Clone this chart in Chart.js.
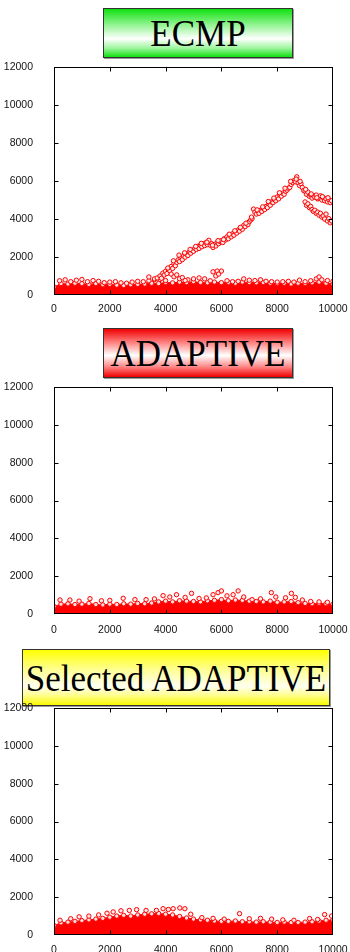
<!DOCTYPE html>
<html>
<head>
<meta charset="utf-8">
<script src="https://cdn.jsdelivr.net/npm/chart.js@4.4.0/dist/chart.umd.min.js"></script>
<style>
  body { margin: 0; background: #fff; width: 350px; height: 952px; position: relative; overflow: hidden; }
  .title {
    position: absolute; box-sizing: border-box; border: 1px solid #333;
    font-family: "Liberation Serif", "Times New Roman", serif; font-size: 35px;
    color: #000; text-align: center; box-shadow: 1px 1px 0 #999;
  }
  .title span { display: inline-block; transform: scaleY(1.06); }
  .panel { position: absolute; left: 0; }
</style>
</head>
<body>

<div class="title" style="left:103px;top:8px;width:190px;height:50px;line-height:50px;
  background:linear-gradient(to bottom,#10e010 0%,#9af59a 35%,#ffffff 62%,#9af59a 82%,#10e010 100%)"><span>ECMP</span></div>
<div class="panel" style="top:60px"><canvas id="c1" width="350" height="257"></canvas></div>

<div class="title" style="left:103px;top:328px;width:190px;height:50px;line-height:50px;
  background:linear-gradient(to bottom,#f00000 0%,#ff8a8a 30%,#ffffff 55%,#ff8a8a 78%,#f00000 100%)"><span>ADAPTIVE</span></div>
<div class="panel" style="top:380px"><canvas id="c2" width="350" height="256"></canvas></div>

<div class="title" style="left:22px;top:649px;width:308px;height:57px;line-height:57px;
  background:linear-gradient(to bottom,#ffff00 0%,#ffff90 35%,#fffff0 66%,#ffff90 82%,#f8f800 100%)"><span>Selected ADAPTIVE</span></div>
<div class="panel" style="top:701px"><canvas id="c3" width="350" height="256"></canvas></div>

<script>
const xTicks = [0, 2000, 4000, 6000, 8000, 10000];
const yTicks = [0, 2000, 4000, 6000, 8000, 10000, 12000];

// upper edge of the dense band, sampled along x
const bandX = [0, 250, 500, 750, 1000, 1250, 1500, 1750, 2000, 2250, 2500, 2750, 3000, 3250, 3500, 3750,
  4000, 4250, 4500, 4750, 5000, 5250, 5500, 5750, 6000, 6250, 6500, 6750, 7000, 7250, 7500, 7750,
  8000, 8250, 8500, 8750, 9000, 9250, 9500, 9750, 10000];

const ecmpBand = [420, 600, 580, 620, 600, 560, 600, 540, 560, 520, 500, 540, 560, 580, 620, 600,
  660, 640, 680, 650, 700, 660, 640, 680, 650, 660, 620, 680, 660, 640, 660, 620,
  600, 620, 580, 620, 600, 640, 680, 620, 580];
const adaptBand = [400, 520, 540, 500, 520, 560, 500, 480, 520, 500, 540, 520, 560, 540, 580, 640,
  680, 640, 700, 680, 660, 640, 700, 720, 760, 700, 740, 720, 680, 660, 640, 680,
  620, 640, 660, 600, 560, 540, 560, 540, 520];
const selBand = [500, 640, 680, 720, 760, 800, 840, 880, 940, 1000, 1040, 1000, 1060, 1100, 1120, 1140,
  1100, 1060, 980, 900, 840, 800, 780, 740, 720, 720, 740, 700, 700, 680, 700, 680,
  660, 680, 660, 660, 680, 700, 740, 780, 800];

// scattered points above the band
const ecmpOutX = [200, 400, 600, 800, 1000, 1200, 1400, 1600, 1800, 2000, 2200, 2400, 2600, 2800, 3000, 3200,
  3400, 3600, 3800, 4000, 4800, 5000, 5200, 5400, 5600, 6200, 6400, 6600, 6800, 7000, 7200, 7400,
  7600, 7800, 8000, 8200, 8400, 8600, 8800, 9000, 9200, 9400, 9500, 9600, 9800, 10000];
const ecmpOutY = [750, 800, 700, 780, 820, 700, 760, 720, 650, 680, 700, 640, 620, 680, 720, 700,
  750, 800, 820, 760, 800, 850, 900, 850, 750, 750, 700, 720, 850, 780, 760, 800,
  720, 700, 680, 700, 720, 680, 780, 700, 750, 850, 950, 800, 760, 720];

const ecmpTrendX = [3400, 3600, 3700, 3800, 3850, 3900, 3950, 4000, 4050, 4100, 4150, 4200, 4250, 4300, 4350, 4400,
  4450, 4500, 4550, 4600, 4650, 4700, 4750, 4800, 4850, 4900, 4950, 5000, 5050, 5100, 5150, 5200,
  5250, 5300, 5350, 5400, 5450, 5500, 5550, 5600, 5650, 5700, 5750, 5800, 5850, 5900, 5950, 6000,
  6050, 6100, 6150, 6200, 6250, 6300, 6350, 6400, 6450, 6500, 6550, 6600, 6650, 6700, 6750, 6800,
  6850, 6900, 6950, 7000, 7050, 7100, 7150, 7200, 7250, 7300, 7350, 7400, 7450, 7500, 7550, 7600,
  7650, 7700, 7750, 7800, 7850, 7900, 7950, 8000, 8050, 8100, 8150, 8200, 8250, 8300, 8350, 8400,
  8450, 8500, 8550, 8600, 8650, 8700, 8750, 8800, 8850, 8900, 8950, 9000, 9050, 9100, 9150, 9200,
  9250, 9300, 9350, 9400, 9450, 9500, 9550, 9600, 9650, 9700, 9750, 9800, 9850, 9900, 9950,
  9000, 9050, 9100, 9150, 9200, 9250, 9300, 9350, 9400, 9450, 9500, 9550, 9600, 9650, 9700, 9750,
  9800, 9850, 9900, 9950,
  4200, 4300, 4400, 4500, 4600, 4700, 5700, 5800, 5850, 5900, 6000,
  4080, 4280, 4480, 4680, 4880, 5080, 5280, 5480, 5680, 5880, 6080, 6280, 6480, 6680, 6880, 7080,
  7280, 7480, 7680, 7880, 8080, 8280, 8480, 8680, 8820, 9020, 9220, 9420, 9620, 9820];
const ecmpTrendY = [950, 850, 900, 1000, 880, 1150, 1050, 1250, 1130, 1350, 1280, 1500, 1400, 1650, 1540, 1720,
  1850, 1760, 1960, 1860, 2060, 1990, 2150, 2080, 2260, 2200, 2350, 2300, 2460, 2400, 2560, 2450,
  2620, 2540, 2700, 2600, 2760, 2650, 2880, 2620, 2700, 2500, 2660, 2580, 2760, 2700, 2820, 2860,
  2760, 2960, 2900, 3060, 2960, 3150, 3060, 3220, 3150, 3320, 3260, 3420, 3360, 3520, 3460, 3660,
  3600, 3760, 3700, 3860, 3950, 4020, 4520, 4360, 4260, 4420, 4300, 4460, 4400, 4560, 4500, 4660,
  4600, 4800, 4720, 4900, 4860, 5020, 4960, 5160, 5060, 5260, 5200, 5360, 5300, 5460, 5520, 5620,
  5660, 5820, 5920, 6020, 5960, 6220, 5900, 5760, 5860, 5660, 5500, 5460, 5300, 5420, 5200, 5260,
  5100, 5220, 5150, 5260, 5060, 5100, 5220, 5000, 5120, 4960, 5060, 4900, 5020, 4860, 4960,
  4900, 4720, 4800, 4600, 4660, 4500, 4400, 4460, 4300, 4360, 4200, 4300, 4100, 4160, 4000, 4260,
  3900, 4020, 3800, 3900,
  1100, 960, 1060, 860, 920, 760, 1220, 1000, 1260, 1100, 1260,
  1420, 1800, 2100, 2220, 2400, 2560, 2720, 2780, 2620, 2860, 2920, 3200, 3380, 3560, 3780, 4100,
  4480, 4640, 4920, 5100, 5380, 5620, 5980, 6100, 5980, 5560, 5320, 5120, 5180, 5120];

const adaptOutX = [215, 570, 900, 1290, 1700, 2000, 2480, 2900, 3300, 3600, 3910, 4150, 4390, 4700, 4930, 5200,
  5460, 5700, 5880, 6000, 6200, 6420, 6600, 6800, 7100, 7400, 7790, 7950, 8300, 8510, 8650, 8900,
  9200, 9500, 9800];
const adaptOutY = [740, 740, 680, 810, 700, 720, 830, 760, 760, 800, 970, 900, 1020, 880, 1090, 820,
  850, 1020, 1130, 1220, 960, 1020, 1220, 900, 760, 800, 1130, 900, 860, 1090, 880, 740,
  660, 640, 620];

const selOutX = [215, 600, 900, 1250, 1600, 1900, 2120, 2400, 2700, 2960, 3300, 3670, 3910, 4100, 4270, 4510,
  4690, 4900, 5300, 5700, 6100, 6650, 7000, 7400, 7800, 8200, 8600, 9160, 9450, 9700, 9950];
const selOutY = [780, 860, 960, 1000, 1060, 1150, 1220, 1280, 1300, 1340, 1300, 1300, 1390, 1350, 1390, 1430,
  1390, 1100, 920, 880, 840, 1130, 860, 880, 840, 800, 780, 870, 820, 1080, 1000];

function pts(xs, ys) {
  return xs.map((x, i) => ({ x: x, y: ys[i] }));
}

const RED = "rgb(255,0,0)";

function bandSet(ys) {
  return {
    type: "line", data: pts(bandX, ys), order: 3,
    fill: "origin", backgroundColor: RED, borderColor: RED, borderWidth: 1, tension: 0,
    pointRadius: 2.2, pointBorderWidth: 1, pointBorderColor: RED, pointBackgroundColor: "#fdd"
  };
}

function dotSet(xs, ys, order) {
  return {
    data: pts(xs, ys), order: order,
    pointRadius: 2.2, pointBorderWidth: 1, pointBorderColor: RED, pointBackgroundColor: "#fde8e8"
  };
}

// closed frame + inward ticks on all four sides
const frame = {
  id: "frame",
  afterDatasetsDraw(chart) {
    const { ctx, chartArea: a, scales } = chart;
    const L = Math.round(a.left) + 0.5, R = Math.round(a.right) - 0.5;
    const T = Math.round(a.top) + 0.5, B = Math.round(a.bottom) - 0.5;
    ctx.save();
    ctx.strokeStyle = "#000";
    ctx.lineWidth = 1;
    ctx.strokeRect(L, T, R - L, B - T);
    ctx.beginPath();
    xTicks.slice(1, -1).forEach(v => {
      const px = Math.round(scales.x.getPixelForValue(v)) + 0.5;
      ctx.moveTo(px, B); ctx.lineTo(px, B - 4);
      ctx.moveTo(px, T); ctx.lineTo(px, T + 4);
    });
    yTicks.slice(1, -1).forEach(v => {
      const py = Math.round(scales.y.getPixelForValue(v)) + 0.5;
      ctx.moveTo(L, py); ctx.lineTo(L + 4, py);
      ctx.moveTo(R, py); ctx.lineTo(R - 4, py);
    });
    ctx.stroke();
    ctx.restore();
  }
};

const tickFont = { family: "'Liberation Sans', Arial, sans-serif", size: 10.5 };

function makeChart(id, datasets, xPad) {
  return new Chart(document.getElementById(id), {
    type: "scatter",
    data: { datasets },
    options: {
      responsive: false,
      animation: false,
      events: [],
      plugins: { legend: { display: false }, tooltip: { enabled: false } },
      layout: { padding: { top: 7, right: 17, left: 0, bottom: 0 } },
      scales: {
        x: {
          type: "linear", min: 0, max: 10000,
          afterBuildTicks: s => { s.ticks = xTicks.map(v => ({ value: v })); },
          afterFit: s => { s.height = 22; s.paddingLeft = 0; s.paddingRight = 0; },
          grid: { display: false },
          border: { display: false },
          ticks: { padding: xPad, color: "#111", font: tickFont, maxRotation: 0, autoSkip: false,
                   callback: v => String(v) }
        },
        y: {
          type: "linear", min: 0, max: 12000,
          afterBuildTicks: s => { s.ticks = yTicks.map(v => ({ value: v })); },
          afterFit: s => { s.width = 54; s.paddingTop = 0; s.paddingBottom = 0; },
          grid: { display: false },
          border: { display: false },
          ticks: { padding: 13, color: "#111", font: tickFont, autoSkip: false,
                   callback: v => String(v) }
        }
      }
    },
    plugins: [frame]
  });
}

makeChart("c1", [
  dotSet(ecmpTrendX, ecmpTrendY, 1),
  dotSet(ecmpOutX, ecmpOutY, 2),
  bandSet(ecmpBand)
], 0);

makeChart("c2", [
  dotSet(adaptOutX, adaptOutY, 2),
  bandSet(adaptBand)
], 1.4);

makeChart("c3", [
  dotSet(selOutX, selOutY, 2),
  bandSet(selBand)
], 0.9);
</script>
</body>
</html>
